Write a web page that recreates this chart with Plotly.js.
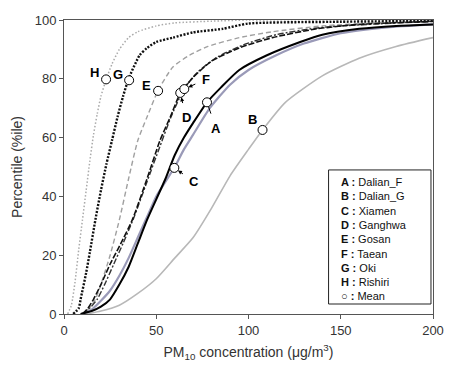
<!DOCTYPE html>
<html>
<head>
<meta charset="utf-8">
<script src="https://cdn.plot.ly/plotly-3.0.1.min.js"></script>
<style>html,body{margin:0;padding:0;background:#fff;}#chart{width:450px;height:372px;}</style>
</head>
<body>
<div id="chart"></div>
<script>
// Cumulative percentile curves (x = PM10 concentration, y = percentile)
const H_x = [2, 4, 6, 8, 10, 12, 14, 16, 18, 20, 23, 26, 30, 35, 40, 50, 60, 80, 100, 200];
const H_y = [0, 3, 11, 22, 32, 42, 52, 61, 68, 74, 80, 85, 90, 94, 96, 98, 99, 99.6, 100, 100];

const G_x = [5, 8, 9, 12, 14, 17, 20, 23, 26, 29, 32, 35, 41, 45, 50, 59, 70, 86, 100, 150, 200];
const G_y = [0, 2, 5, 14, 21, 32, 42, 51, 59, 67, 74, 80, 88, 90.5, 92.5, 94, 95.8, 97, 98.8, 99.4, 99.7];

const E_x = [9, 12, 15, 17, 20, 25, 30, 35, 40, 45, 51, 59, 68, 78, 95, 113, 140, 170, 200];
const E_y = [0, 1, 3, 5, 10, 20, 32, 46, 59, 67, 76, 84, 88, 91, 94, 96, 98, 99, 99.5];

const D_x = [10, 13, 16, 20, 25, 30, 37, 45, 52, 57.6, 63, 70, 80, 95, 113, 137, 160, 200];
const D_y = [0, 2, 5, 10, 17, 23, 32, 46, 59, 67, 75, 80.5, 86, 90.5, 94, 97, 98.5, 99.5];

const F_x = [10, 14, 18, 22, 27, 32, 38, 45, 52, 58, 65, 72, 82, 97, 115, 140, 200];
const F_y = [0, 2, 5, 10, 17, 24, 33, 45, 57, 67, 76.5, 82, 87, 91.5, 95, 97.5, 99.6];

const A_x = [9, 15, 20, 25, 30, 35, 40, 45, 50, 55, 60, 65, 70, 77.5, 85, 95, 110, 128, 140, 160, 180, 200];
const A_y = [0, 1, 2.5, 5, 10, 16, 24, 32, 39, 46, 54, 60, 65, 72, 77, 83, 88, 92.5, 95, 97, 98, 98.5];

const C_x = [10, 15, 20, 25, 30, 35, 40, 45, 50, 55, 60, 65, 70, 79, 90, 100, 115, 130, 150, 175, 200];
const C_y = [0, 1.5, 4.5, 8, 13, 19, 26, 33, 40, 45, 50, 56, 61, 70, 78, 83, 88, 92, 95.5, 97.5, 98.5];

const B_x = [12, 20, 30, 40, 50, 60, 70, 80, 90, 100, 107.6, 120, 140, 160, 180, 200];
const B_y = [0, 1, 3, 7, 12, 19, 26, 36, 47, 56, 62.6, 72, 81, 87, 91, 94];

// Mean points
const meanLabels = ['A', 'B', 'C', 'D', 'E', 'F', 'G', 'H'];
const meanX = [77.5, 107.6, 59.8, 63, 51, 65.2, 35.3, 22.8];
const meanY = [72, 62.6, 49.7, 75.2, 75.9, 76.5, 79.5, 79.8];

// Legend text
const legendLetters = ['A', 'B', 'C', 'D', 'E', 'F', 'G', 'H', '○'];
const legendNames = ['Dalian_F', 'Dalian_G', 'Xiamen', 'Ganghwa', 'Gosan', 'Taean', 'Oki', 'Rishiri', 'Mean'];

const xTicks = [0, 50, 100, 150, 200];
const yTicks = [0, 20, 40, 60, 80, 100];

function line(x, y, color, width, dash) {
  return {x: x, y: y, mode: 'lines', type: 'scatter', line: {color: color, width: width, dash: dash, shape: 'spline', smoothing: 0.6}, hoverinfo: 'skip', showlegend: false};
}

const traces = [
  line(B_x, B_y, '#b8b8b8', 1.6, 'solid'),
  line(H_x, H_y, '#aaaaaa', 1.5, '1.5px,2px'),
  line(E_x, E_y, '#a0a0a0', 1.4, '5px,3px'),
  line(C_x, C_y, '#9a9ab8', 2.2, 'solid'),
  line(F_x, F_y, '#333333', 1.4, '6px,2px,2px,2px'),
  line(D_x, D_y, '#111111', 1.6, '6px,2px'),
  line(A_x, A_y, '#000000', 2, 'solid'),
  line(G_x, G_y, '#111111', 2.4, '2px,1.5px'),
  {x: meanX, y: meanY, mode: 'markers', type: 'scatter', marker: {symbol: 'circle', size: 9, color: '#ffffff', line: {color: '#000', width: 1}}, hoverinfo: 'skip', showlegend: false}
];

// label offsets (pixels) and whether an arrow is used
const offs = {A: [9, 26, true], B: [-10, -10, false], C: [20, 14, true], D: [6, 25, true], E: [-12, -5, false], F: [22, -10, true], G: [-11, -6, false], H: [-12, -7, false]};

const annotations = [];
meanLabels.forEach((L, i) => {
  const o = offs[L];
  if (o[2]) {
    annotations.push({x: meanX[i], y: meanY[i], xref: 'x', yref: 'y', text: '<b>' + L + '</b>', showarrow: true, ax: o[0], ay: o[1], arrowhead: L === 'A' ? 0 : 2, arrowsize: 0.8, arrowwidth: 1, arrowcolor: '#000', standoff: 4.5, startstandoff: 6, font: {size: 13, color: '#000', family: 'Liberation Sans, Arial, sans-serif'}});
  } else {
    annotations.push({x: meanX[i], y: meanY[i], xref: 'x', yref: 'y', text: '<b>' + L + '</b>', showarrow: false, xshift: o[0], yshift: -o[1], font: {size: 13, color: '#000', family: 'Liberation Sans, Arial, sans-serif'}});
  }
});

// legend box
const legText = legendLetters.map((L, i) => '<b>' + L + ' :</b> ' + legendNames[i]).join('<br>');
annotations.push({xref: 'paper', yref: 'paper', x: 0.745, y: 0.475, xanchor: 'left', yanchor: 'top', align: 'left', showarrow: false, text: legText, font: {size: 11, color: '#111', family: 'Liberation Sans, Arial, sans-serif'}});

const shapes = [{type: 'rect', xref: 'paper', yref: 'paper', x0: 0.717, x1: 0.9945, y0: 0.034, y1: 0.49, line: {color: '#222', width: 1}, fillcolor: 'rgba(255,255,255,0)'}];

const layout = {
  width: 450, height: 372,
  margin: {l: 64, r: 17, t: 20, b: 58},
  paper_bgcolor: '#fff', plot_bgcolor: '#fff',
  font: {family: 'Liberation Sans, Arial, sans-serif', color: '#333', size: 13},
  xaxis: {range: [0, 200], tickvals: xTicks, ticks: 'outside', ticklen: 4, tickcolor: '#555', showgrid: false, zeroline: false, showline: true, linecolor: '#555', linewidth: 1, mirror: true, tickfont: {size: 13, color: '#333'},
    title: {text: 'PM<sub>10</sub> concentration (μg/m<sup>3</sup>)', font: {size: 14, color: '#333'}, standoff: 10}},
  yaxis: {range: [0, 100], tickvals: yTicks, ticks: 'outside', ticklen: 4, tickcolor: '#555', showgrid: false, zeroline: false, showline: true, linecolor: '#555', linewidth: 1, mirror: true, tickfont: {size: 13, color: '#333'},
    title: {text: 'Percentile (%ile)', font: {size: 14, color: '#333'}, standoff: 8}},
  annotations: annotations,
  shapes: shapes
};

Plotly.newPlot('chart', traces, layout, {staticPlot: true, displayModeBar: false});
</script>
</body>
</html>
